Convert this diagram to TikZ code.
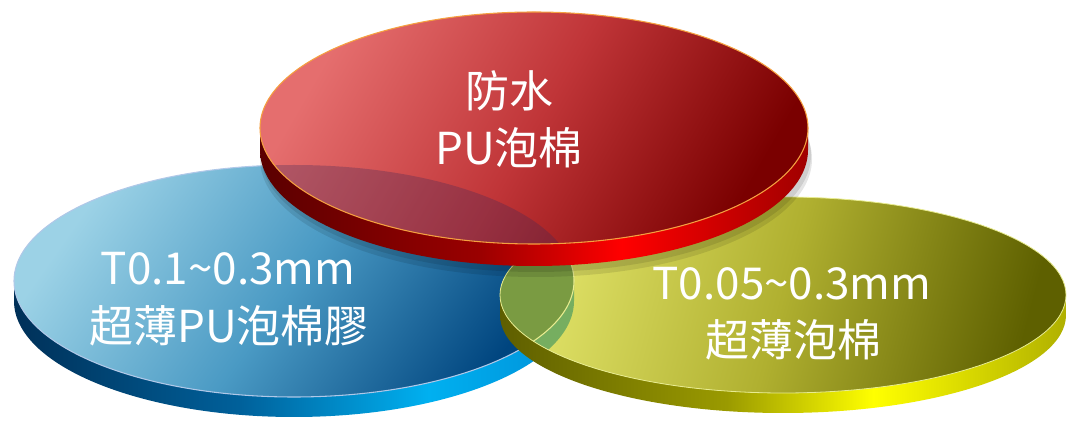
\documentclass[tikz,border=0pt]{standalone}
\usepackage{fontspec}
\setmainfont{Noto Sans CJK TC}
\definecolor{rtA}{HTML}{E56E6E}
\definecolor{rtB}{HTML}{C03538}
\definecolor{rtC}{HTML}{7A0000}
\definecolor{rsA}{HTML}{5A0000}
\definecolor{rsB}{HTML}{9A0000}
\definecolor{rsC}{HTML}{FF0000}
\definecolor{rsD}{HTML}{A00000}
\definecolor{btA}{HTML}{9CD2E6}
\definecolor{btB}{HTML}{4A9AC4}
\definecolor{btC}{HTML}{00457F}
\definecolor{bsA}{HTML}{003058}
\definecolor{bsB}{HTML}{00609A}
\definecolor{bsC}{HTML}{00B0F0}
\definecolor{bsD}{HTML}{0090D8}
\definecolor{ytA}{HTML}{E2E46A}
\definecolor{ytB}{HTML}{B0B030}
\definecolor{ytC}{HTML}{5E6000}
\definecolor{ysA}{HTML}{5E5E00}
\definecolor{ysB}{HTML}{9A9A00}
\definecolor{ysC}{HTML}{FFFF00}
\definecolor{ysD}{HTML}{B0B000}
\definecolor{redrim}{HTML}{F5A040}
\definecolor{bluerim}{HTML}{B0C8E8}
\definecolor{yelrim}{HTML}{E8EC90}
\definecolor{greentop}{HTML}{7A9B42}
\definecolor{greenside}{HTML}{76AE60}
\definecolor{mauve}{HTML}{3C2858}
\pgfdeclarehorizontalshading{redside}{100bp}{color(0bp)=(rsA); color(25bp)=(rsA); color(45bp)=(rsB); color(58bp)=(rsC); color(75bp)=(rsD); color(100bp)=(rsD)}
\pgfdeclarehorizontalshading{blueside}{100bp}{color(0bp)=(bsA); color(25bp)=(bsA); color(45bp)=(bsB); color(62bp)=(bsC); color(75bp)=(bsD); color(100bp)=(bsD)}
\pgfdeclarehorizontalshading{yelside}{100bp}{color(0bp)=(ysA); color(25bp)=(ysA); color(45bp)=(ysB); color(58bp)=(ysC); color(75bp)=(ysD); color(100bp)=(ysD)}
\tikzset{
  label/.style={text=white, inner sep=0pt, anchor=base, font=\fontsize{33}{40}\selectfont},
  redtop/.style={top color=rtA, bottom color=rtC, middle color=rtB, shading angle=60},
  bluetop/.style={top color=btA, bottom color=btC, middle color=btB, shading angle=55},
  yeltop/.style={top color=ytA, bottom color=ytC, middle color=ytB, shading angle=75},
}
\begin{document}
\begin{tikzpicture}[x=0.75pt,y=0.75pt]
\useasboundingbox (0,0) rectangle (1067,421);
% ---------- blue disc (back) ----------
\path[shading=blueside] (14,140) -- (14,120) arc[start angle=180,end angle=360,x radius=280,y radius=116]
  -- (574,140) arc[start angle=0,end angle=-180,x radius=280,y radius=116] -- cycle;
\path[bluetop] (294,140) ellipse[x radius=280,y radius=116];
\draw[bluerim, line width=0.8pt] (294,140) ellipse[x radius=280,y radius=116];
% ---------- yellow disc (middle) ----------
\path[shading=yelside] (500,126) -- (500,106) arc[start angle=180,end angle=360,x radius=283,y radius=98]
  -- (1066,126) arc[start angle=0,end angle=-180,x radius=283,y radius=98] -- cycle;
\path[yeltop] (783,126) ellipse[x radius=283,y radius=98];
\begin{scope}
  \clip (783,126) ellipse[x radius=283,y radius=98];
  \fill[greenside] (14,140) -- (14,120) arc[start angle=180,end angle=360,x radius=280,y radius=116]
    -- (574,140) arc[start angle=0,end angle=-180,x radius=280,y radius=116] -- cycle;
  \fill[greentop] (294,140) ellipse[x radius=280,y radius=116];
  \draw[yelrim, line width=0.8pt] (294,140) ellipse[x radius=280,y radius=116];
\end{scope}
\draw[yelrim, line width=0.6pt] (783,126) ellipse[x radius=283,y radius=98];
% ---------- shadow of red disc ----------
\fill[black, opacity=0.10] (536,262) ellipse[x radius=276,y radius=118];
\fill[black, opacity=0.10] (536,266) ellipse[x radius=275,y radius=117];
% ---------- red disc (front) ----------
\path[shading=redside] (260,293) -- (260,271) arc[start angle=180,end angle=360,x radius=274,y radius=116]
  -- (808,293) arc[start angle=0,end angle=-180,x radius=274,y radius=116] -- cycle;
\path[redtop] (534,293) ellipse[x radius=274,y radius=116];
\begin{scope}
  \clip (534,293) ellipse[x radius=274,y radius=116];
  \fill[mauve, opacity=0.3] (294,140) ellipse[x radius=280,y radius=116];
\end{scope}
\draw[redrim, line width=0.8pt] (534,293) ellipse[x radius=274,y radius=116];
% ---------- labels ----------
\node[label] (r1) at (509,313) {防水};
\node[label] (r2) at (509,256) {PU泡棉};
\node[label] (b1) at (228,136) {T0.1\textasciitilde0.3mm};
\node[label] (b2) at (229,78) {超薄PU泡棉膠};
\node[label] (y1) at (792,121) {T0.05\textasciitilde0.3mm};
\node[label] (y2) at (793,64) {超薄泡棉};
\end{tikzpicture}
\end{document}
